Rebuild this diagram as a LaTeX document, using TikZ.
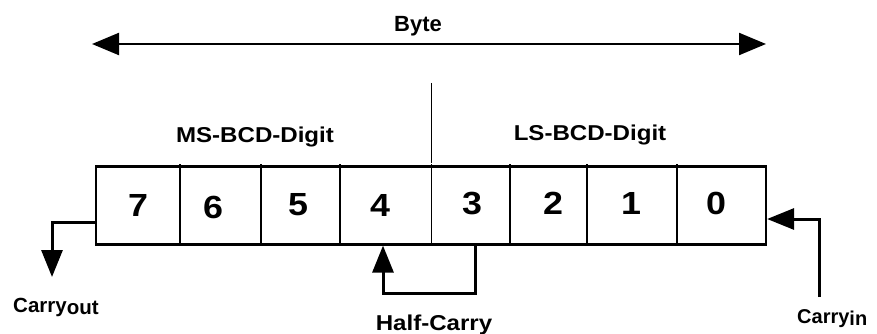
\documentclass[tikz,border=0pt]{standalone}
\usepackage{fontspec}
\setmainfont{Liberation Sans}
\usetikzlibrary{arrows.meta}
\newcommand{\widetxt}[1]{\scalebox{1.12}[1]{#1}}
\begin{document}
\begin{tikzpicture}[x=1pt,y=-1pt,
  lbl/.style={inner sep=0pt,anchor=base,font=\fontsize{21.5}{25}\selectfont\bfseries},
  carrylbl/.style={inner sep=0pt,anchor=base west,font=\fontsize{20.5}{24}\selectfont\bfseries},
  digit/.style={inner sep=0pt,font=\fontsize{32}{36}\selectfont\bfseries},
  regbox/.style={draw,line width=2.2pt,inner sep=0pt,minimum width=670pt,minimum height=78pt},
  divider/.style={line width=1.7pt},
  conn/.style={line width=3pt},
  tip/.style={-{Triangle[length=27pt,width=21pt]}},
  bytearrow/.style={line width=2.2pt,{Triangle[length=27pt,width=22pt]}-{Triangle[length=27pt,width=22pt]}}
]
\useasboundingbox (0,0) rectangle (877,334);
% register
\node[regbox] (reg) at (431,205.5) {};
\foreach \x in {180,261,340,431.5,510,587,677}
  \draw[divider] (\x,164) -- (\x,242.5);
% digits
\node[digit] (d7) at (138,205.5) {\widetxt{7}};
\node[digit] (d6) at (213,207.5) {\widetxt{6}};
\node[digit] (d5) at (298,204.5) {\widetxt{5}};
\node[digit] (d4) at (380,205.5) {\widetxt{4}};
\node[digit] (d3) at (472,203.5) {\widetxt{3}};
\node[digit] (d2) at (553,203.5) {\widetxt{2}};
\node[digit] (d1) at (631,203.5) {\widetxt{1}};
\node[digit] (d0) at (716,203) {\widetxt{0}};
% byte arrow
\coordinate (byteL) at (92,44);
\coordinate (byteR) at (766,44);
\draw[bytearrow] (byteL) -- (byteR);
\node[lbl,font=\fontsize{22}{26}\selectfont\bfseries] (byte) at (418,32) {Byte};
% separator
\coordinate (sepT) at (431.5,83);
\coordinate (sepB) at (431.5,163);
\draw[divider] (sepT) -- (sepB);
\node[lbl] (ms) at (255,142) {\widetxt{MS-BCD-Digit}};
\node[lbl] (ls) at (590,140) {\widetxt{LS-BCD-Digit}};
% carry out
\coordinate (cout) at (52,277);
\draw[conn,tip] (reg.west |- 0,222) -| (cout);
\node[carrylbl] (coutl) at (13,312.5) {Carry\raisebox{-2pt}{out}};
% half carry
\coordinate (hc) at (475,293);
\draw[conn,tip] (reg.south -| hc) -- (hc) -| (reg.south -| 383,0);
\node[lbl] (hcl) at (434,330) {\widetxt{Half-Carry}};
% carry in
\coordinate (cin) at (819,297);
\draw[conn,tip] (cin) |- (reg.east |- 0,219);
\node[carrylbl,font=\fontsize{20}{24}\selectfont\bfseries] (cinl) at (797,323) {Carry\raisebox{-2pt}{in}};
\end{tikzpicture}
\end{document}
